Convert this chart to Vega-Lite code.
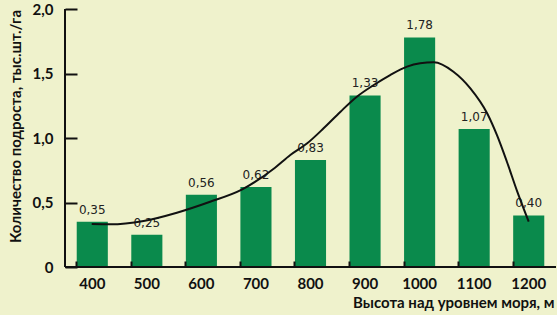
{
  "$schema": "https://vega.github.io/schema/vega-lite/v6.json",
  "width": 491,
  "height": 258,
  "autosize": {"type": "none"},
  "padding": {"left": 65, "top": 9, "right": 1, "bottom": 48},
  "background": "#eff2cc",
  "config": {"view": {"stroke": null}},
  "datasets": {
    "bars": [
      {"h": "400", "v": 0.35}, {"h": "500", "v": 0.25}, {"h": "600", "v": 0.56},
      {"h": "700", "v": 0.62}, {"h": "800", "v": 0.83}, {"h": "900", "v": 1.33},
      {"h": "1000", "v": 1.78}, {"h": "1100", "v": 1.07}, {"h": "1200", "v": 0.40}
    ],
    "curve": [
      {"x": 399, "y": 0.333}, {"x": 433, "y": 0.331}, {"x": 494, "y": 0.357},
      {"x": 555, "y": 0.421}, {"x": 616, "y": 0.506}, {"x": 674, "y": 0.6},
      {"x": 735, "y": 0.77}, {"x": 763, "y": 0.868}, {"x": 794, "y": 0.959},
      {"x": 824, "y": 1.075}, {"x": 855, "y": 1.204}, {"x": 885, "y": 1.32},
      {"x": 916, "y": 1.411}, {"x": 946, "y": 1.488}, {"x": 977, "y": 1.553},
      {"x": 1001, "y": 1.579}, {"x": 1026, "y": 1.587}, {"x": 1062, "y": 1.514},
      {"x": 1093, "y": 1.385}, {"x": 1124, "y": 1.19}, {"x": 1142, "y": 1.02},
      {"x": 1160, "y": 0.816}, {"x": 1179, "y": 0.584}, {"x": 1200, "y": 0.351}
    ]
  },
  "layer": [
    {
      "data": {"name": "bars"},
      "encoding": {
        "x": {
          "field": "h", "type": "ordinal", "sort": null,
          "scale": {"paddingInner": 0.43, "paddingOuter": 0.215},
          "axis": {
            "orient": "bottom", "offset": -6, "title": "Высота над уровнем моря, м",
            "labelAngle": 0, "ticks": true, "tickSize": 6, "bandPosition": 0, "tickColor": "#111", "tickWidth": 2,
            "domain": false, "zindex": 2,
            "labelFont": "Lato", "labelFontWeight": "bold", "labelFontSize": 15, "labelColor": "#111",
            "labelPadding": 9,
            "titleFont": "Lato", "titleFontWeight": "bold", "titleFontSize": 15, "titleColor": "#111",
            "titleAnchor": "end", "titleAlign": "right", "titleX": 489, "titleY": 34, "titleBaseline": "top"
          }
        },
        "y": {
          "field": "v", "type": "quantitative",
          "scale": {"domain": [0, 2]},
          "axis": {
            "orient": "left", "offset": -12, "zindex": 2,
            "values": [0, 0.5, 1, 1.5, 2],
            "labelExpr": "datum.value == 0 ? '0' : replace(format(datum.value, '.1f'), '.', ',')",
            "grid": false, "ticks": true, "tickSize": 12, "tickColor": "#111", "tickWidth": 2,
            "domain": false, "labelPadding": 12,
            "labelFont": "Lato", "labelFontWeight": "bold", "labelFontSize": 15, "labelColor": "#111",
            "title": "Количество подроста, тыс.шт./га",
            "titleFont": "Lato", "titleFontWeight": "bold", "titleFontSize": 15, "titleColor": "#111",
            "titleX": -62, "titleY": 117, "titleAlign": "center", "titleBaseline": "middle", "titleAngle": -90
          }
        }
      },
      "layer": [
        {"mark": {"type": "bar", "color": "#0a8a4c"}},
        {
          "transform": [{"calculate": "replace(format(datum.v, '.2f'), '.', ',')", "as": "lab"}],
          "mark": {"type": "text", "baseline": "alphabetic", "dy": -8, "font": "DejaVu Sans", "fontSize": 12, "color": "#222"},
          "encoding": {"text": {"field": "lab"}}
        }
      ]
    },
    {
      "data": {"name": "curve"},
      "layer": [
        {
          "mark": {"type": "line", "color": "#111", "strokeWidth": 2, "interpolate": "monotone"},
          "encoding": {
            "x": {
              "field": "x", "type": "quantitative",
              "scale": {"domain": [350, 1250], "nice": false, "zero": false},
              "axis": null
            },
            "y": {"field": "y", "type": "quantitative"}
          }
        },
        {
          "mark": {"type": "rule", "color": "#111", "strokeWidth": 2},
          "encoding": {"x": {"datum": 350, "type": "quantitative"}}
        },
        {
          "mark": {"type": "rule", "color": "#111", "strokeWidth": 2},
          "encoding": {"y": {"datum": 0, "type": "quantitative"}}
        }
      ]
    }
  ],
  "resolve": {"scale": {"x": "independent"}}
}
